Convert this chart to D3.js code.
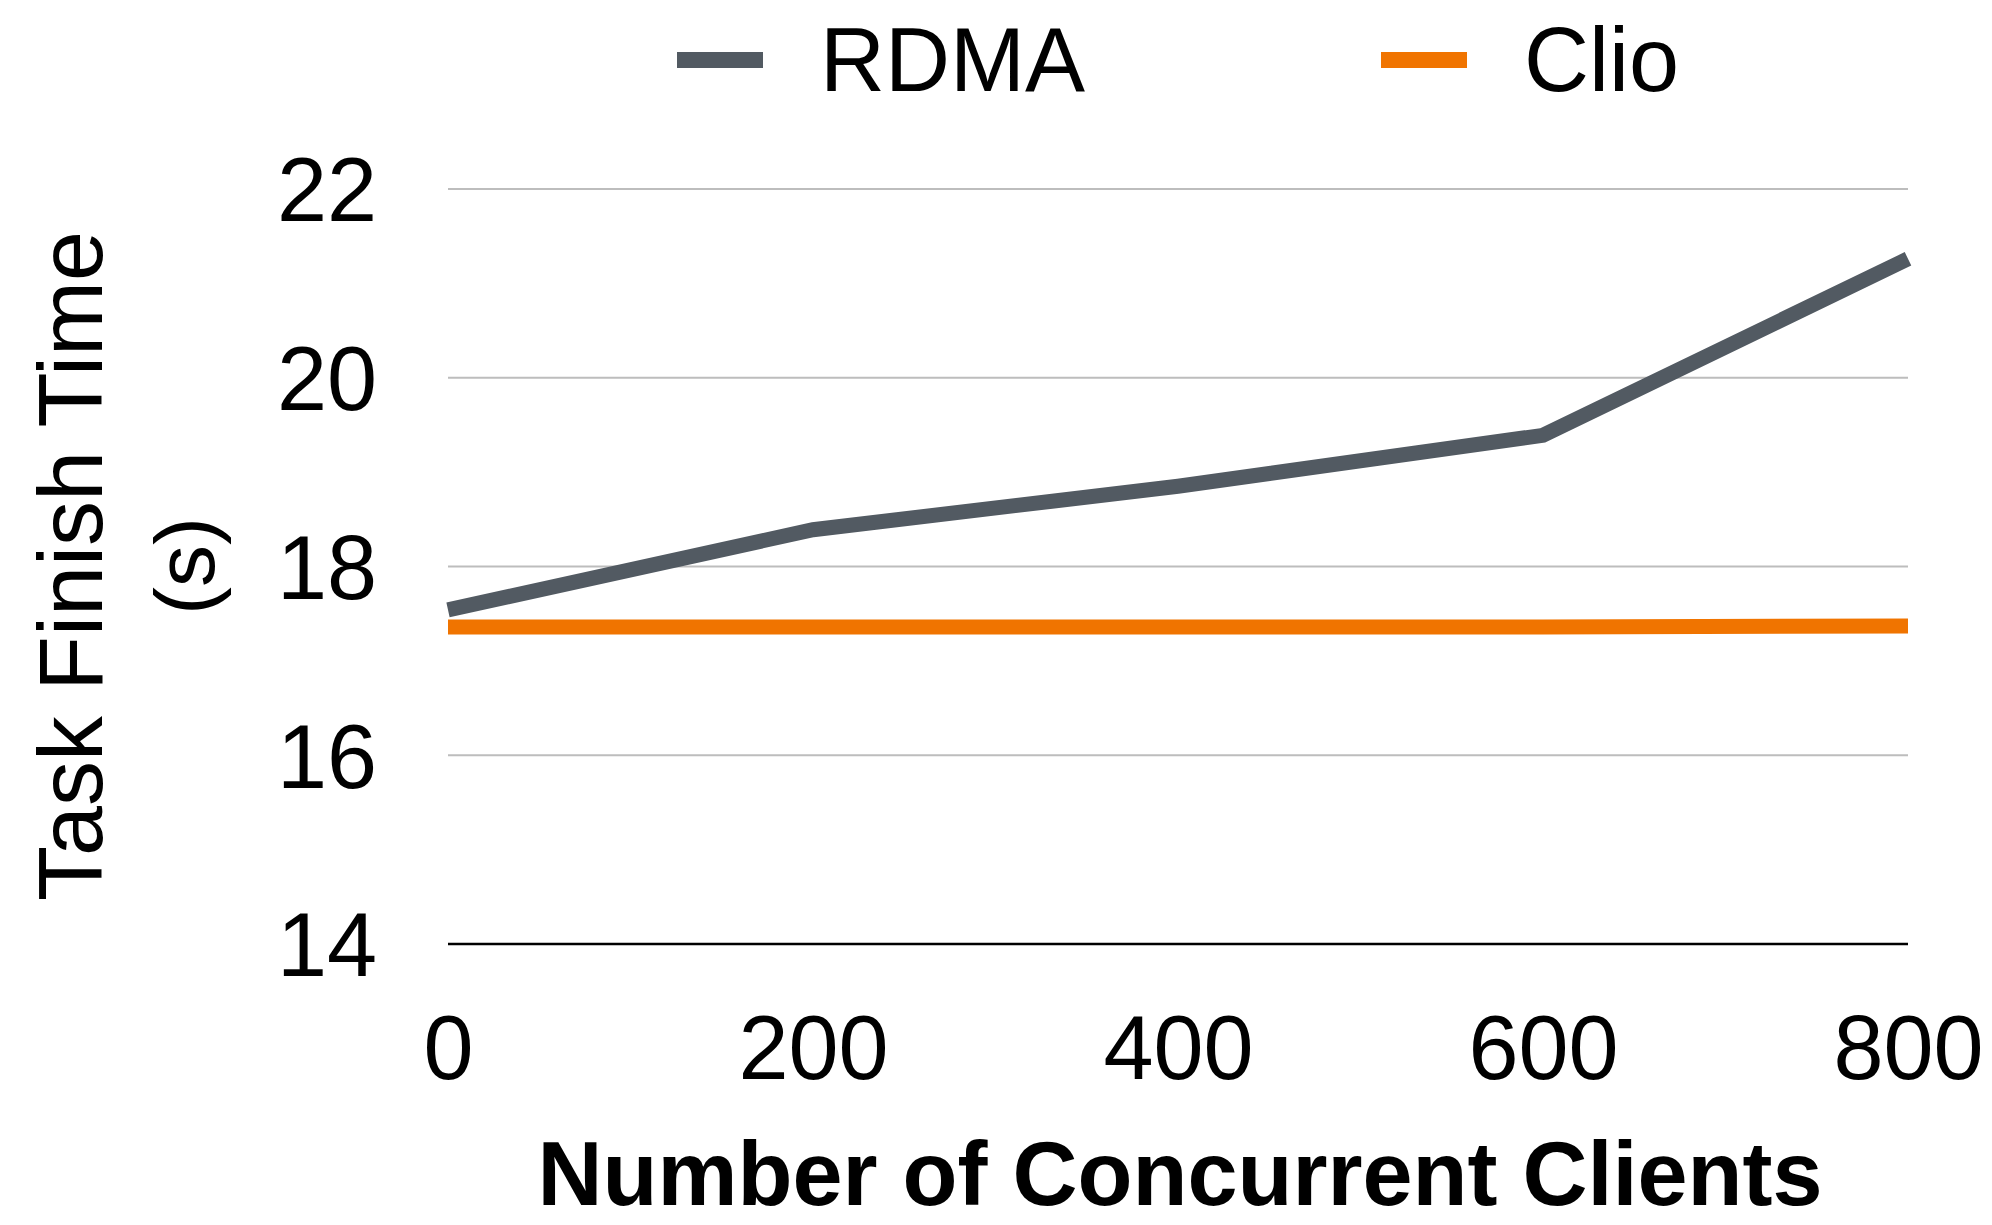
<!DOCTYPE html>
<html>
<head>
<meta charset="utf-8">
<script src="https://cdn.jsdelivr.net/npm/d3@7"></script>
<style>
  html, body { margin: 0; padding: 0; background: #ffffff; }
  svg { display: block; }
  text { font-family: "Liberation Sans", Arial, Helvetica, sans-serif; fill: #000; }
</style>
</head>
<body>
<svg id="chart" width="1992" height="1225"></svg>
<script>
// ---- data ----
const clients = [0, 200, 400, 600, 800];
const rdma = [17.54, 18.39, 18.85, 19.39, 21.26];
const clio = [17.36, 17.36, 17.36, 17.36, 17.37];
const seriesNames = ["RDMA", "Clio"];
const xTickLabels = [0, 200, 400, 600, 800];
const yTickLabels = [14, 16, 18, 20, 22];
const xTitle = "Number of Concurrent Clients";
const yTitleLines = ["Task Finish Time", "(s)"];

// ---- styles ----
const colors = ["#525a62", "#f07400"];

const svg = d3.select("#chart");
const x = d3.scaleLinear().domain([0, 800]).range([448, 1908]);
const y = d3.scaleLinear().domain([14, 22]).range([944, 189]);

// gridlines
svg.append("g").selectAll("line")
  .data(yTickLabels)
  .join("line")
  .attr("x1", x(0)).attr("x2", x(800))
  .attr("y1", d => y(d)).attr("y2", d => y(d))
  .attr("stroke", d => d === 14 ? "#000" : "#bdbdbd")
  .attr("stroke-width", d => d === 14 ? 2.5 : 2);

// y axis labels
const yAxis = svg.append("g")
  .attr("transform", `translate(${x(0)},0)`)
  .call(d3.axisLeft(y).tickValues(yTickLabels).tickSize(0).tickPadding(71).tickFormat(d3.format("d")));
yAxis.select(".domain").remove();
yAxis.selectAll("text")
  .attr("dy", "0.355em")
  .style("font-size", "90px")
  .style("font-family", "'Liberation Sans', Arial, sans-serif")
  .attr("fill", "#000");

// x axis labels
const xAxis = svg.append("g")
  .attr("transform", `translate(0,${y(14)})`)
  .call(d3.axisBottom(x).tickValues(xTickLabels).tickSize(0).tickPadding(71).tickFormat(d3.format("d")));
xAxis.select(".domain").remove();
xAxis.selectAll("text")
  .style("font-size", "90px")
  .style("font-family", "'Liberation Sans', Arial, sans-serif")
  .attr("fill", "#000");

// lines
const seriesData = [rdma, clio];
const line = d3.line().x((d, i) => x(clients[i])).y(d => y(d));
svg.append("g").selectAll("path")
  .data(seriesData)
  .join("path")
  .attr("d", d => line(d))
  .attr("fill", "none")
  .attr("stroke", (d, i) => colors[i])
  .attr("stroke-width", 15)
  .attr("stroke-linejoin", "miter")
  .attr("stroke-linecap", "butt");

// legend
const legendX = [677, 1381];
const leg = svg.append("g").selectAll("g")
  .data(seriesNames)
  .join("g")
  .attr("transform", (d, i) => `translate(${legendX[i]},0)`);
leg.append("rect")
  .attr("x", 0).attr("y", 52).attr("width", 86).attr("height", 16)
  .attr("fill", (d, i) => colors[i]);
leg.append("text")
  .attr("x", 143).attr("y", 91)
  .style("font-size", "90px")
  .text(d => d);

// x title
svg.append("text")
  .attr("x", 1180).attr("y", 1205)
  .attr("text-anchor", "middle")
  .style("font-size", "90px")
  .style("font-weight", "bold")
  .text(xTitle);

// y title
const yBase = [102, 214];
svg.append("g").selectAll("text")
  .data(yTitleLines)
  .join("text")
  .attr("transform", (d, i) => `translate(${yBase[i]},566) rotate(-90)`)
  .attr("text-anchor", "middle")
  .style("font-size", (d, i) => i === 0 ? "90px" : "84px")
  .text(d => d);
</script>
</body>
</html>
